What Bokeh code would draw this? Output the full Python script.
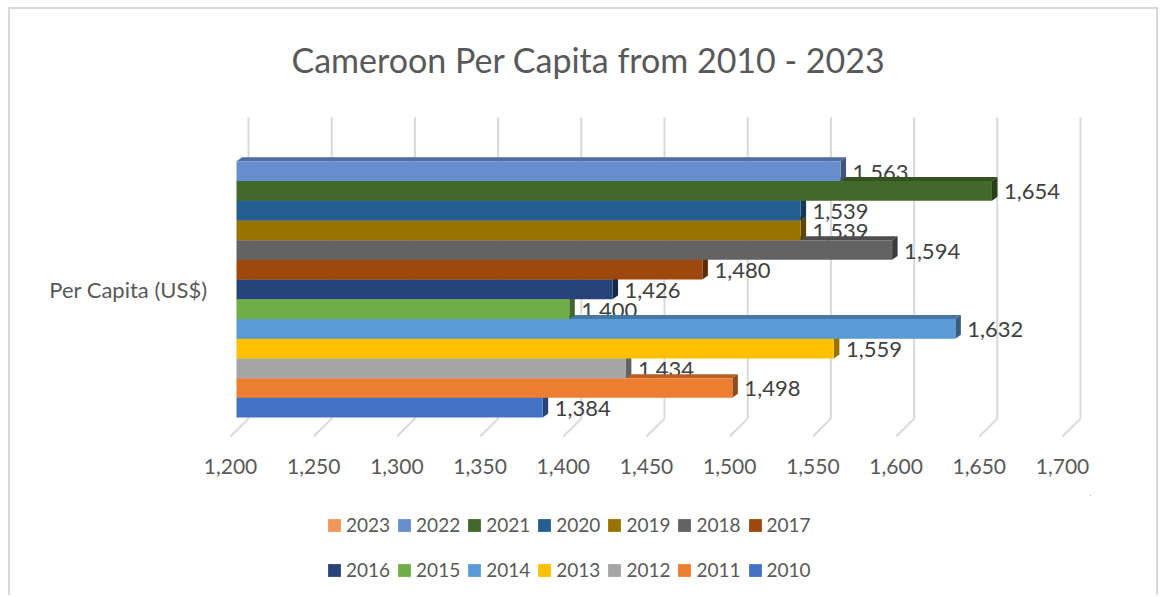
import math
from bokeh.plotting import figure
from bokeh.layouts import column
from bokeh.models import (FixedTicker, NumeralTickFormatter, Legend, LegendItem,
                          Title, Range1d, ColumnDataSource)
from bokeh.embed import file_html
from bokeh.resources import INLINE
from bokeh.core.properties import value

# ---------------- data ----------------
years = ["2010", "2011", "2012", "2013", "2014", "2015", "2016",
         "2017", "2018", "2019", "2020", "2021", "2022", "2023"]
per_capita = [1384, 1498, 1434, 1559, 1632, 1400, 1426,
              1480, 1594, 1539, 1539, 1654, 1563, None]
colors = ["#4472C4", "#ED7D31", "#A5A5A5", "#FFC000", "#5B9BD5", "#70AD47", "#264478",
          "#9E480E", "#636363", "#997300", "#255E91", "#43682B", "#698ED0", "#F1975A"]
x_ticks = [1200, 1250, 1300, 1350, 1400, 1450, 1500, 1550, 1600, 1650, 1700]
title_text = "Cameroon Per Capita from 2010 - 2023"
category_label = "Per Capita (US$)"

# ---------------- layout constants ----------------
FONT = "Lato"
PX_X = 1.664          # pixels per US$
PX_Y = 19.83          # pixels per bar slot
BASE = 1200
DX = 5.5 / PX_X       # bar depth (x)
DY = 4.0 / PX_Y       # bar depth (y)
BX = 12.0 / PX_X      # back wall shift
FX = 6.0 / PX_X       # floor front shift
Y_FLOOR_BACK = -11.0 / PX_Y
Y_FLOOR_FRONT = -29.0 / PX_Y
Y_WALL_TOP = 292.0 / PX_Y
BORDER = "2px solid #d9d9d9"
X0, X1 = BASE - 16 / PX_X, BASE + 854 / PX_X


def shade(hex_color, f):
    h = hex_color.lstrip("#")
    r, g, b = (int(h[i:i + 2], 16) for i in (0, 2, 4))
    return "#%02x%02x%02x" % (int(r * f), int(g * f), int(b * f))


p = figure(width=1150, height=488,
           x_range=Range1d(X0, X1),
           y_range=Range1d(-33 / PX_Y, 302 / PX_Y),
           output_backend="svg", toolbar_location=None,
           min_border_left=210, min_border_right=70,
           min_border_top=96, min_border_bottom=57)
p.outline_line_color = None
p.grid.visible = False
p.styles = {"margin-left": "8px", "margin-top": "7px",
            "border-left": BORDER, "border-top": BORDER, "border-right": BORDER}
# the value axis sits on the front edge of the 3-D floor
p.extra_x_ranges = {"floor": Range1d(X0 + FX, X1 + FX)}

# walls / floor grid lines
p.segment(x0=[t + BX for t in x_ticks], y0=[Y_FLOOR_BACK] * len(x_ticks),
          x1=[t + BX for t in x_ticks], y1=[Y_WALL_TOP] * len(x_ticks),
          line_color="#d9d9d9", line_width=2)
p.segment(x0=[t + BX for t in x_ticks], y0=[Y_FLOOR_BACK] * len(x_ticks),
          x1=[t - FX for t in x_ticks], y1=[Y_FLOOR_FRONT] * len(x_ticks),
          line_color="#d9d9d9", line_width=2)

idx = [i for i, v in enumerate(per_capita) if v is not None]
vals = [per_capita[i] for i in idx]
cols = [colors[i] for i in idx]

# data labels (drawn first, so that neighbouring bars cover them as in 3-D)
lab_src = ColumnDataSource(dict(x=vals, y=idx, t=[f"{v:,}" for v in vals]))
p.text(x="x", y="y", text="t", source=lab_src, x_offset=12, y_offset=1,
       text_baseline="middle", text_align="left", text_font=value(FONT),
       text_font_size="22px", text_color="#404040")

# 3-D faces (top and end), bottom bar first
xs, ys, fc = [], [], []
for i, v, c in zip(idx, vals, cols):
    top = i + 0.5
    bot = i - 0.5
    xs.append([BASE, v, v + DX, BASE + DX])
    ys.append([top, top, top + DY, top + DY])
    fc.append(shade(c, 0.78))
    xs.append([v, v, v + DX, v + DX])
    ys.append([bot, top, top + DY, bot + DY])
    fc.append(shade(c, 0.6))
p.patches(xs=xs, ys=ys, fill_color=fc, line_color=None)

# front faces
p.hbar(y=idx, left=BASE, right=vals, height=1.0, fill_color=cols, line_color=None)

# axes
xa = p.xaxis[0]
xa.x_range_name = "floor"
xa.ticker = FixedTicker(ticks=x_ticks)
xa.formatter = NumeralTickFormatter(format="0,0")
xa.axis_line_color = None
xa.major_tick_line_color = None
xa.minor_tick_line_color = None
xa.major_label_standoff = 12
xa.major_label_text_font = FONT
xa.major_label_text_font_size = "21px"
xa.major_label_text_color = "#595959"

mid = (len(idx) - 1) / 2
p.yaxis.ticker = FixedTicker(ticks=[mid])
p.yaxis.major_label_overrides = {mid: category_label}
p.yaxis.axis_line_color = None
p.yaxis.major_tick_line_color = None
p.yaxis.minor_tick_line_color = None
p.yaxis.major_label_standoff = 7
p.yaxis.major_label_text_font = FONT
p.yaxis.major_label_text_font_size = "22px"
p.yaxis.major_label_text_color = "#595959"

# title
p.add_layout(Title(text=title_text, align="left", offset=71, standoff=55,
                   text_font=FONT, text_font_size="34px", text_font_style="normal",
                   text_color="#595959"), "above")

# ---------------- legend strip ----------------
p2 = figure(width=1150, height=100, x_range=Range1d(0, 1), y_range=Range1d(-100, -99),
            x_axis_type=None, y_axis_type=None,
            output_backend="svg", toolbar_location=None,
            min_border_left=0, min_border_right=0, min_border_top=0, min_border_bottom=0)
p2.outline_line_color = None
p2.grid.visible = False
p2.styles = {"margin-left": "8px", "border-left": BORDER, "border-right": BORDER}

# the full series again (flat and outside this strip's view) to feed the legend swatches
leg_src = ColumnDataSource(dict(
    y=list(range(len(years))),
    right=[v if v is not None else math.nan for v in per_capita],
    color=colors))
leg_r = p2.hbar(y="y", left=BASE, right="right", height=0, fill_color="color",
                line_color=None, source=leg_src)
items = {y: LegendItem(label=y, renderers=[leg_r], index=i) for i, y in enumerate(years)}
row1 = [items[y] for y in years[::-1][:7]]
row2 = [items[y] for y in years[::-1][7:]]
for row, vy in ((row1, 59), (row2, 14)):
    lg = Legend(items=row, orientation="horizontal", location=(106, vy),
                glyph_width=16, glyph_height=16, label_height=16,
                label_standoff=4, spacing=6, padding=0, margin=0,
                border_line_color=None, background_fill_alpha=0,
                label_text_font=FONT, label_text_font_size="19px",
                label_text_color="#595959")
    p2.add_layout(lg, "center")

open("out.html", "w").write(file_html(column(p, p2), INLINE))
